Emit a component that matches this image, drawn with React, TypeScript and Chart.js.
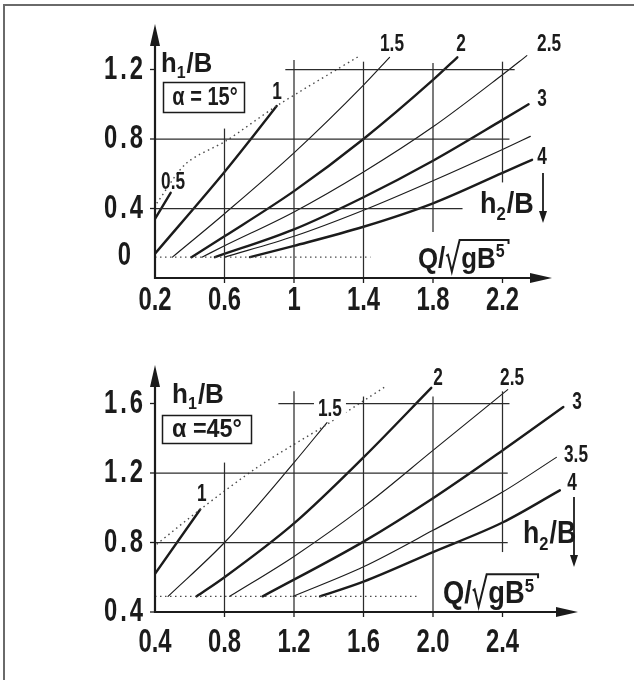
import React, { useEffect, useRef } from "react";
import { Chart, registerables } from "chart.js";
Chart.register(...registerables);

// ---------------- DATA ----------------
// Top panel  (alpha = 15°)
const T_X_TICKS = [0.2, 0.6, 1.0, 1.4, 1.8, 2.2];
const T_X_LABELS = ["0.2", "0.6", "1", "1.4", "1.8", "2.2"];
const T_Y_TICKS = [0.4, 0.8, 1.2];
const T_Y_LABELS = ["0.4", "0.8", "1.2"];
const T_ZERO_AT = 0.12;
const T_H05 = [[0.2, 0.34], [0.29, 0.49]];
const T_H1 = [[0.2, 0.14], [0.6, 0.61], [0.76, 0.81], [0.9, 0.99]];
const T_H15 = [[0.3, 0.12], [0.6, 0.37], [1.0, 0.72], [1.4, 1.11], [1.55, 1.27]];
const T_H2 = [[0.41, 0.12], [0.6, 0.24], [1.0, 0.5], [1.4, 0.8], [1.8, 1.14], [1.94, 1.27]];
const T_H25 = [[0.47, 0.12], [0.6, 0.185], [1.0, 0.38], [1.4, 0.61], [1.8, 0.87], [2.2, 1.17], [2.34, 1.28]];
const T_H3 = [[0.545, 0.12], [1.0, 0.28], [1.4, 0.465], [1.8, 0.675], [2.2, 0.91], [2.35, 1.0]];
const T_H35 = [[0.6, 0.12], [1.0, 0.24], [1.4, 0.39], [1.8, 0.56], [2.2, 0.74], [2.36, 0.815]];
const T_H4 = [[0.747, 0.12], [1.0, 0.185], [1.4, 0.295], [1.8, 0.43], [2.2, 0.605], [2.37, 0.68]];
const T_BASE = [[0.2, 0.12], [1.44, 0.12]];
const T_ENVELOPE = [[0.21, 0.43], [0.38, 0.66], [0.61, 0.79], [0.9, 0.99], [1.38, 1.28]];
const T_GRID_H = [[1.2, 0.95, 2.27], [0.8, 0.2, 2.24], [0.4, 0.2, 1.97]];
const T_GRID_V = [[0.6, 0, 0.86], [1.0, 0, 1.255], [1.4, 0, 1.245], [1.8, 0.265, 1.237], [2.2, 0.55, 1.245]];
const T_CURVE_NAMES = ["0.5", "1", "1.5", "2", "2.5", "3", "4"];

// Bottom panel (alpha = 45°)
const B_X_TICKS = [0.4, 0.8, 1.2, 1.6, 2.0, 2.4];
const B_X_LABELS = ["0.4", "0.8", "1.2", "1.6", "2.0", "2.4"];
const B_Y_TICKS = [0.4, 0.8, 1.2, 1.6];
const B_Y_LABELS = ["0.4", "0.8", "1.2", "1.6"];
const B_H1 = [[0.4, 0.62], [0.66, 0.99]];
const B_H15 = [[0.475, 0.49], [0.8, 0.8], [1.2, 1.26], [1.39, 1.49]];
const B_H2 = [[0.64, 0.49], [0.8, 0.6], [1.2, 0.91], [1.6, 1.29], [1.99, 1.69]];
const B_H25 = [[0.83, 0.49], [1.2, 0.72], [1.6, 1.005], [2.0, 1.33], [2.43, 1.68]];
const B_H3 = [[1.02, 0.49], [1.6, 0.805], [2.0, 1.055], [2.4, 1.33], [2.75, 1.58]];
const B_H35 = [[1.195, 0.49], [1.6, 0.66], [2.0, 0.87], [2.4, 1.09], [2.71, 1.29]];
const B_H4 = [[1.35, 0.49], [1.6, 0.575], [2.0, 0.745], [2.4, 0.915], [2.73, 1.1]];
const B_BASE = [[0.4, 0.49], [1.91, 0.49]];
const B_ENVELOPE = [[0.41, 0.79], [0.66, 0.99], [1.0, 1.24], [1.39, 1.48], [1.73, 1.7]];
const B_GRID_H = [[1.6, 1.11, 2.44], [1.2, 0.4, 2.43], [0.8, 0.4, 2.43]];
const B_GRID_V = [[0.8, 0.4, 1.26], [1.2, 0.4, 1.67], [1.6, 0.4, 1.64], [2.0, 0.4, 1.64], [2.4, 0.745, 1.67]];
const B_CURVE_NAMES = ["1", "1.5", "2", "2.5", "3", "3.5", "4"];

// ---------------- STYLE / LAYOUT ----------------
const INK = "#1b1b1b";
const GRID = "#2c2c2c";
const DOT = "#4a4a4a";
const FONT = '"Liberation Sans", Arial, Helvetica, sans-serif';
const UNIT = 173.75; // px per data unit, both axes
const THICK = 2.4;
const THIN = 1.15;
const TICK_SIZE = 34;
const TICK_SX = 0.7;
const CURVE_LABEL_SIZE = 23;

function setFont(ctx: CanvasRenderingContext2D, size: number) {
  ctx.font = `bold ${size}px ${FONT}`;
}
function tw(ctx: CanvasRenderingContext2D, s: string, size: number, sx: number) {
  ctx.save();
  setFont(ctx, size);
  const w = ctx.measureText(s).width * sx;
  ctx.restore();
  return w;
}
function drawText(
  ctx: CanvasRenderingContext2D, s: string, x: number, y: number, size: number, sx: number,
  align: CanvasTextAlign = "center", baseline: CanvasTextBaseline = "middle"
) {
  ctx.save();
  setFont(ctx, size);
  ctx.textAlign = align;
  ctx.textBaseline = baseline;
  ctx.translate(x, y);
  ctx.scale(sx, 1);
  ctx.fillText(s, 0, 0);
  ctx.restore();
}
function spacedRight(ctx: CanvasRenderingContext2D, s: string, xr: number, y: number, size: number, sx: number, gap: number) {
  let x = xr;
  for (let i = s.length - 1; i >= 0; i--) {
    const ch = s[i];
    drawText(ctx, ch, x, y, size, sx, "right", "middle");
    x -= tw(ctx, ch, size, sx) + gap;
  }
}
type Part = { t: string; sub?: boolean; sup?: boolean };
function rich(ctx: CanvasRenderingContext2D, parts: Part[], x: number, b: number, size: number, sx: number) {
  let cx = x;
  for (const p of parts) {
    const s = p.sub || p.sup ? size * 0.62 : size;
    const dy = p.sub ? size * 0.22 : p.sup ? -size * 0.36 : 0;
    drawText(ctx, p.t, cx, b + dy, s, sx, "left", "alphabetic");
    cx += tw(ctx, p.t, s, sx) + (p.sub || p.sup ? 1 : 0);
  }
  return cx;
}
function line(ctx: CanvasRenderingContext2D, x0: number, y0: number, x1: number, y1: number) {
  ctx.beginPath();
  ctx.moveTo(x0, y0);
  ctx.lineTo(x1, y1);
  ctx.stroke();
}
function arrowHead(ctx: CanvasRenderingContext2D, tx: number, ty: number, dir: "up" | "down" | "right", len: number, half: number) {
  ctx.beginPath();
  if (dir === "up") { ctx.moveTo(tx, ty); ctx.lineTo(tx - half, ty + len); ctx.lineTo(tx + half, ty + len); }
  if (dir === "down") { ctx.moveTo(tx, ty); ctx.lineTo(tx - half, ty - len); ctx.lineTo(tx + half, ty - len); }
  if (dir === "right") { ctx.moveTo(tx, ty); ctx.lineTo(tx - len, ty - half); ctx.lineTo(tx - len, ty + half); }
  ctx.closePath();
  ctx.fill();
}
function hOverB(ctx: CanvasRenderingContext2D, sub: string, x: number, b: number, size: number, sx: number) {
  rich(ctx, [{ t: "h" }, { t: sub, sub: true }, { t: "/B" }], x, b, size, sx);
}
function qLabel(ctx: CanvasRenderingContext2D, x: number, b: number, size: number, sx: number) {
  let cx = rich(ctx, [{ t: "Q/" }], x, b, size, sx);
  const rx = cx;
  cx += size * 0.5;
  cx = rich(ctx, [{ t: "g" }, { t: "B" }, { t: "5", sup: true }], cx + 1, b, size, sx);
  const end = cx + 3;
  ctx.save();
  ctx.lineWidth = 2;
  ctx.strokeStyle = INK;
  ctx.beginPath();
  ctx.moveTo(rx + size * 0.03, b - size * 0.4);
  ctx.lineTo(rx + size * 0.09, b - size * 0.44);
  ctx.lineTo(rx + size * 0.22, b + size * 0.12);
  ctx.lineTo(rx + size * 0.48, b - size * 0.93);
  ctx.lineTo(end, b - size * 0.93);
  ctx.lineTo(end, b - size * 0.8);
  ctx.stroke();
  ctx.restore();
}

type Panel = {
  xMin: number; yMin: number;
  pad: { left: number; right: number; top: number; bottom: number };
  width: number; height: number;
  xTicks: number[]; xLabels: string[]; yTicks: number[]; yLabels: string[];
  curves: { pts: number[][]; w: number; name: string; lx: number; ly: number; bg?: boolean }[];
  base: number[][]; envelope: number[][];
  gridH: number[][]; gridV: number[][];
  xTip: number; yTip: number; xLabelDy: number;
  extra: (ctx: CanvasRenderingContext2D, px: (v: number) => number, py: (v: number) => number) => void;
};

const TOP: Panel = {
  xMin: 0.2, yMin: 0, width: 634, height: 340,
  pad: { left: 155, right: 29, top: 20, bottom: 62 },
  xTicks: T_X_TICKS, xLabels: T_X_LABELS, yTicks: T_Y_TICKS, yLabels: T_Y_LABELS,
  curves: [
    { pts: T_H05, w: THICK, name: T_CURVE_NAMES[0], lx: 0.304, ly: 0.547 },
    { pts: T_H1, w: THICK, name: T_CURVE_NAMES[1], lx: 0.902, ly: 1.065 },
    { pts: T_H15, w: THIN, name: T_CURVE_NAMES[2], lx: 1.564, ly: 1.341 },
    { pts: T_H2, w: THICK, name: T_CURVE_NAMES[3], lx: 1.961, ly: 1.341 },
    { pts: T_H25, w: THIN, name: T_CURVE_NAMES[4], lx: 2.468, ly: 1.341 },
    { pts: T_H3, w: THICK, name: T_CURVE_NAMES[5], lx: 2.427, ly: 1.024 },
    { pts: T_H35, w: THIN, name: "", lx: 0, ly: 0 },
    { pts: T_H4, w: THICK, name: T_CURVE_NAMES[6], lx: 2.427, ly: 0.691 },
  ],
  base: T_BASE, envelope: T_ENVELOPE, gridH: T_GRID_H, gridV: T_GRID_V,
  xTip: 552, yTip: 24, xLabelDy: 23,
  extra: (ctx, px, py) => {
    drawText(ctx, "0", 131, py(T_ZERO_AT) - 2, TICK_SIZE, TICK_SX, "right", "middle");
    hOverB(ctx, "1", 161, 72, 27, 0.95);
    ctx.lineWidth = 1.5;
    ctx.strokeRect(163.5, 82.5, 81, 30);
    drawText(ctx, "α = 15°", 205, 98, 25, 0.8);
    hOverB(ctx, "2", 480, 213, 30, 0.9);
    ctx.lineWidth = 1.8;
    line(ctx, 543, 173, 543, 212);
    arrowHead(ctx, 543, 223, "down", 12, 4);
    qLabel(ctx, 418, 268, 30, 0.86);
  },
};

const BOTTOM: Panel = {
  xMin: 0.4, yMin: 0.4, width: 634, height: 340,
  pad: { left: 155, right: 29, top: 20, bottom: 68 },
  xTicks: B_X_TICKS, xLabels: B_X_LABELS, yTicks: B_Y_TICKS, yLabels: B_Y_LABELS,
  curves: [
    { pts: B_H1, w: THICK, name: B_CURVE_NAMES[0], lx: 0.67, ly: 1.073 },
    { pts: B_H15, w: THIN, name: B_CURVE_NAMES[1], lx: 1.407, ly: 1.563, bg: true },
    { pts: B_H2, w: THICK, name: B_CURVE_NAMES[2], lx: 2.029, ly: 1.741 },
    { pts: B_H25, w: THIN, name: B_CURVE_NAMES[3], lx: 2.455, ly: 1.741 },
    { pts: B_H3, w: THICK, name: B_CURVE_NAMES[4], lx: 2.829, ly: 1.603 },
    { pts: B_H35, w: THIN, name: B_CURVE_NAMES[5], lx: 2.823, ly: 1.298 },
    { pts: B_H4, w: THICK, name: B_CURVE_NAMES[6], lx: 2.8, ly: 1.137 },
  ],
  base: B_BASE, envelope: B_ENVELOPE, gridH: B_GRID_H, gridV: B_GRID_V,
  xTip: 578, yTip: 25, xLabelDy: 31,
  extra: (ctx) => {
    hOverB(ctx, "1", 172, 63, 28, 0.93);
    ctx.lineWidth = 1.5;
    ctx.strokeRect(162.5, 75.5, 89, 28);
    drawText(ctx, "α =45°", 207, 90, 26, 0.9);
    hOverB(ctx, "2", 523, 203, 31, 0.86);
    ctx.lineWidth = 1.8;
    line(ctx, 574, 157, 574, 216);
    arrowHead(ctx, 574, 227, "down", 12, 4);
    qLabel(ctx, 443, 263, 31, 0.88);
  },
};

function toXY(pts: number[][]) {
  return pts.map(([x, y]) => ({ x, y }));
}

function buildConfig(p: Panel): any {
  const areaW = p.width - p.pad.left - p.pad.right;
  const areaH = p.height - p.pad.top - p.pad.bottom;
  const datasets: any[] = [];
  const seg = (data: any[], w: number, color: string, extra: any = {}) => ({
    data, borderWidth: w, borderColor: color, pointRadius: 0, fill: false, tension: 0, ...extra,
  });
  p.gridH.forEach(([yv, x0, x1]) => datasets.push(seg([{ x: x0, y: yv }, { x: x1, y: yv }], 1.25, GRID)));
  p.gridV.forEach(([xv, y0, y1]) => datasets.push(seg([{ x: xv, y: y0 }, { x: xv, y: y1 }], 1.25, GRID)));
  datasets.push(seg(toXY(p.base), 1.4, DOT, { borderDash: [1.5, 3.5] }));
  datasets.push(seg(toXY(p.envelope), 1.4, DOT, { borderDash: [1.5, 3.5], tension: 0.3 }));
  p.curves.forEach((c) =>
    datasets.push(seg(toXY(c.pts), c.w, INK, { cubicInterpolationMode: "monotone", borderCapStyle: "round" }))
  );

  const overlay = {
    id: "overlay",
    afterDatasetsDraw(chart: any) {
      const ctx: CanvasRenderingContext2D = chart.ctx;
      const xs = chart.scales.x, ys = chart.scales.y;
      const px = (v: number) => xs.getPixelForValue(v);
      const py = (v: number) => ys.getPixelForValue(v);
      const ox = px(p.xMin), oy = py(p.yMin);
      ctx.save();
      ctx.strokeStyle = INK;
      ctx.fillStyle = INK;
      ctx.lineCap = "butt";
      // axes
      ctx.lineWidth = 2.2;
      line(ctx, ox - 1, oy, p.xTip - 18, oy);
      line(ctx, ox, oy + 1, ox, p.yTip + 18);
      arrowHead(ctx, p.xTip, oy, "right", 22, 5);
      arrowHead(ctx, ox, p.yTip, "up", 22, 5);
      // ticks
      ctx.lineWidth = 1.3;
      p.xTicks.forEach((v, i) => {
        const x = px(v);
        if (i > 0) line(ctx, x, oy, x, oy + 5);
        drawText(ctx, p.xLabels[i], x, oy + p.xLabelDy, TICK_SIZE, TICK_SX);
      });
      p.yTicks.forEach((v, i) => {
        const y = py(v);
        line(ctx, ox - 5, y, ox, y);
        spacedRight(ctx, p.yLabels[i], 143, y, TICK_SIZE, TICK_SX, 3);
      });
      // curve labels
      p.curves.forEach((c) => {
        if (!c.name) return;
        const x = px(c.lx), y = py(c.ly);
        if (c.bg) {
          const w = tw(ctx, c.name, CURVE_LABEL_SIZE, 0.75);
          ctx.fillStyle = "#fff";
          ctx.fillRect(x - w / 2 - 4, y - 9, w + 8, 18);
          ctx.fillStyle = INK;
        }
        drawText(ctx, c.name, x, y, CURVE_LABEL_SIZE, 0.75);
      });
      p.extra(ctx, px, py);
      ctx.restore();
    },
  };

  return {
    type: "line",
    data: { datasets },
    options: {
      animation: false,
      responsive: false,
      maintainAspectRatio: false,
      devicePixelRatio: 1,
      layout: { padding: p.pad },
      scales: {
        x: { type: "linear", display: false, min: p.xMin, max: p.xMin + areaW / UNIT },
        y: { type: "linear", display: false, min: p.yMin, max: p.yMin + areaH / UNIT },
      },
      plugins: { legend: { display: false }, tooltip: { enabled: false } },
      elements: { point: { radius: 0 } },
    },
    plugins: [overlay],
  };
}

export default function App() {
  const topRef = useRef<HTMLCanvasElement>(null);
  const botRef = useRef<HTMLCanvasElement>(null);
  useEffect(() => {
    const c1 = new Chart(topRef.current as HTMLCanvasElement, buildConfig(TOP));
    const c2 = new Chart(botRef.current as HTMLCanvasElement, buildConfig(BOTTOM));
    return () => {
      c1.destroy();
      c2.destroy();
    };
  }, []);
  return (
    <div style={{ position: "absolute", left: 0, top: 0, width: 634, height: 680, background: "#fff", overflow: "hidden" }}>
      <div
        style={{
          position: "absolute", left: 3, top: 4, width: 700, height: 700,
          borderLeft: "2px solid #6a6a6a", borderTop: "2px solid #6a6a6a",
        }}
      />
      <canvas ref={topRef} width={634} height={340} style={{ position: "absolute", left: 0, top: 0, width: 634, height: 340 }} />
      <canvas ref={botRef} width={634} height={340} style={{ position: "absolute", left: 0, top: 340, width: 634, height: 340 }} />
    </div>
  );
}
